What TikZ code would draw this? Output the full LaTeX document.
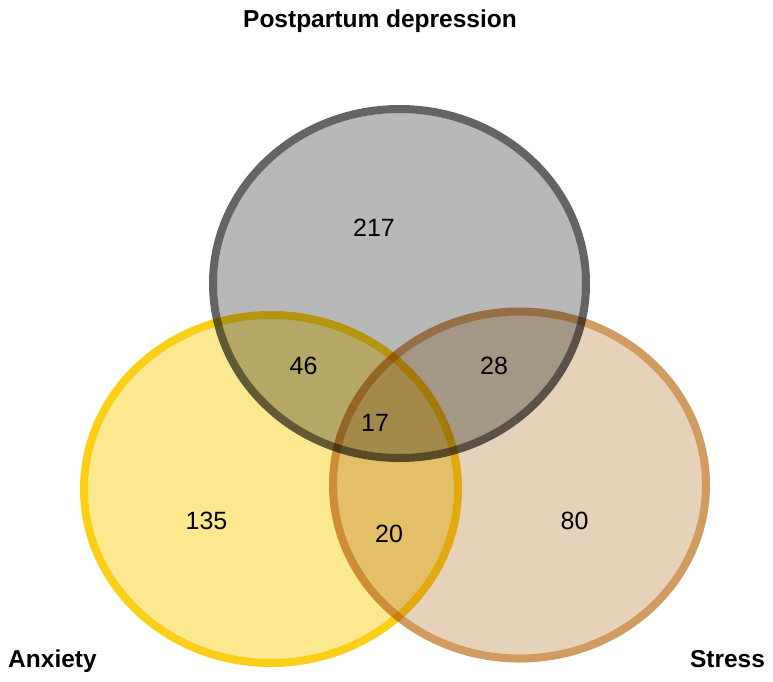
\documentclass[tikz,border=0pt]{standalone}
\usepackage{fontspec}
\setmainfont{Liberation Sans}
\usepackage{xcolor}
\usetikzlibrary{positioning}

\definecolor{ppdfill}{RGB}{184,184,184}
\definecolor{ppdline}{RGB}{100,100,100}
\definecolor{anxfill}{RGB}{252,232,142}
\definecolor{anxline}{RGB}{251,207,22}
\definecolor{strfill}{RGB}{230,210,185}
\definecolor{strline}{RGB}{210,155,95}

\tikzset{
  setfill/.style={blend mode=multiply},
  setline/.style={line width=8pt,blend mode=multiply},
  setname/.style={font=\fontsize{24.5}{30}\selectfont\bfseries,anchor=base},
  count/.style={font=\fontsize{25}{30}\selectfont}
}

\begin{document}
\begin{tikzpicture}[x=1pt,y=-1pt]
 \useasboundingbox (0,0) rectangle (773,681);
 % the three sets: fill inside the rim, then the rim
 \fill[setfill,ppdfill] (399.5,283.5) ellipse (182.5 and 170.5);
 \fill[setfill,anxfill] (271,489) ellipse (183 and 170);
 \fill[setfill,strfill] (519.5,485) ellipse (182.5 and 169.5);
 \draw[setline,ppdline] (399.5,283.5) ellipse (186.5 and 174.5);
 \draw[setline,anxline] (271,489) ellipse (187 and 174);
 \draw[setline,strline] (519.5,485) ellipse (186.5 and 173.5);
 % set names
 \node[setname] (ppd) at (380,27) {Postpartum depression};
 \node[setname] (anx) at (52.5,667) {Anxiety};
 \node[setname] (str) at (727.5,667) {Stress};
 % region counts
 \node[count] (n217) at (374,227.5) {217};
 \node[count] (n46) at (303.5,366) {46};
 \node[count] (n28) at (494,366) {28};
 \node[count] (n17) at (375,423) {17};
 \node[count] (n135) at (206.5,520.5) {135};
 \node[count] (n20) at (389,534) {20};
 \node[count] (n80) at (574.5,521) {80};
\end{tikzpicture}
\end{document}
